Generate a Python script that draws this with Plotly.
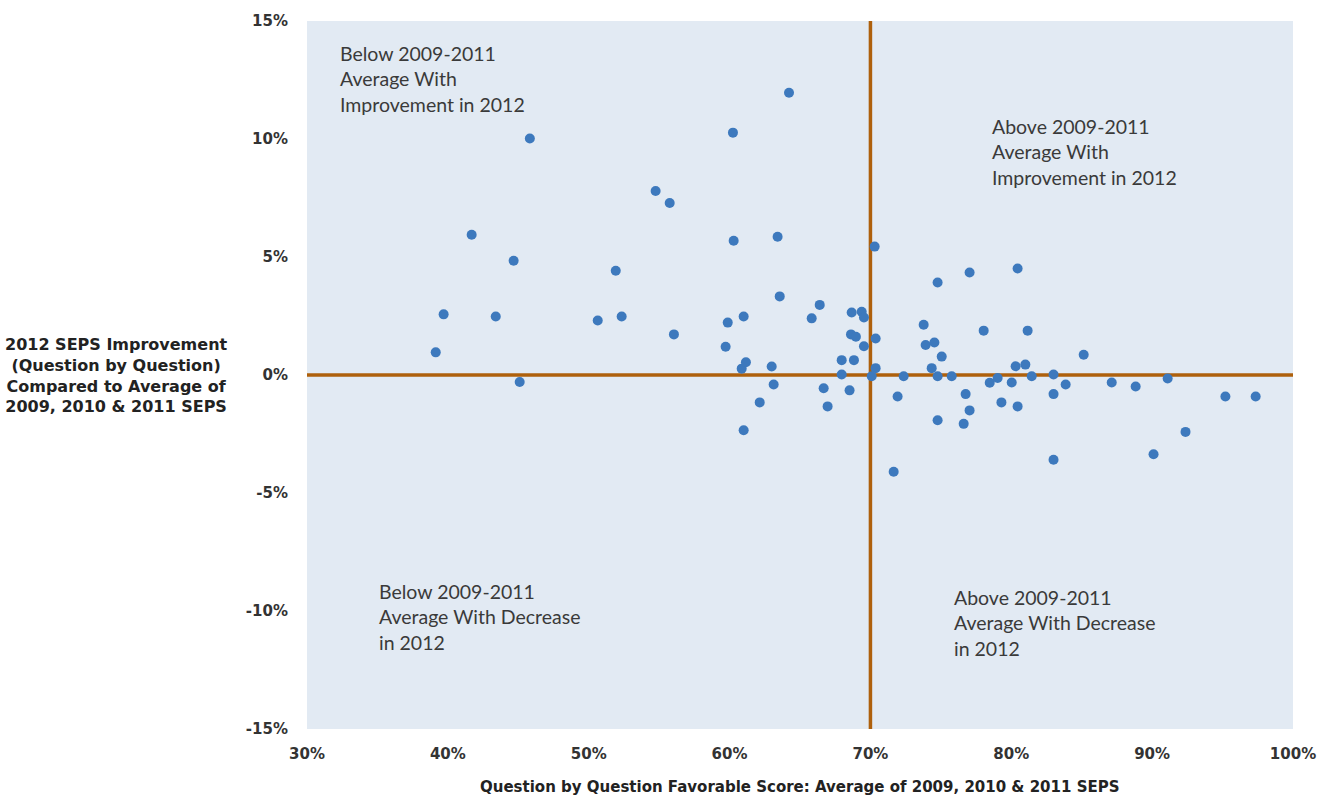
import plotly.graph_objects as go

# Question by question favorable score (avg 2009-2011), percent
favorable_avg = [
    39.14, 39.70, 41.69, 43.40, 44.67, 45.10, 45.82, 50.64, 51.92, 52.34,
    54.75, 55.75, 56.05, 59.72, 59.87, 60.29, 60.24, 60.86, 61.00, 61.16,
    61.00, 62.14, 62.99, 63.13, 63.41, 63.56, 64.22, 65.83, 66.40, 66.68,
    66.96, 67.96, 67.96, 68.52, 68.67, 68.62, 68.97, 68.83, 69.38, 69.54,
    69.54, 70.30, 70.37, 70.37, 70.09, 71.65, 71.93, 72.36, 73.78, 73.92,
    74.54, 74.35, 74.77, 74.77, 75.06, 74.77, 75.77, 76.62, 76.76, 77.04,
    77.04, 78.04, 78.47, 79.03, 79.30, 80.03, 80.31, 80.45, 80.45, 81.00,
    81.16, 81.45, 83.00, 83.00, 83.00, 83.86, 85.14, 87.13, 88.83, 90.10,
    91.10, 92.37, 95.20, 97.35,
]
# 2012 improvement compared to 2009-2011 average, percent points
improvement_2012 = [
    0.96, 2.57, 5.94, 2.48, 4.84, -0.30, 10.02, 2.31, 4.42, 2.48,
    7.80, 7.29, 1.72, 1.20, 2.22, 5.69, 10.27, 0.27, 2.48, 0.54,
    -2.34, -1.16, 0.36, -0.40, 5.86, 3.33, 11.96, 2.40, 2.97, -0.56,
    -1.33, 0.63, 0.02, -0.65, 2.65, 1.72, 1.62, 0.63, 2.68, 2.44,
    1.22, 5.44, 1.55, 0.29, -0.05, -4.10, -0.91, -0.05, 2.13, 1.27,
    1.38, 0.29, 3.92, -0.05, 0.78, -1.92, -0.05, -2.07, -0.81, -1.50,
    4.34, 1.88, -0.33, -0.13, -1.16, -0.32, 0.37, 4.51, -1.33, 0.44,
    1.88, -0.05, 0.02, -0.81, -3.59, -0.40, 0.86, -0.32, -0.49, -3.36,
    -0.15, -2.41, -0.91, -0.91,
]

x_tickvals = [30, 40, 50, 60, 70, 80, 90, 100]
x_ticktext = ["30%", "40%", "50%", "60%", "70%", "80%", "90%", "100%"]
y_tickvals = [-15, -10, -5, 0, 5, 10, 15]
y_ticktext = ["-15%", "-10%", "-5%", "0%", "5%", "10%", "15%"]

x_divider = 70
y_divider = 0

quadrant_labels = [
    "Below 2009-2011<br>Average With<br>Improvement in 2012",
    "Above 2009-2011<br>Average With<br>Improvement in 2012",
    "Below 2009-2011<br>Average With Decrease<br>in 2012",
    "Above 2009-2011<br>Average With Decrease<br>in 2012",
]
quadrant_x = [32.2, 78.5, 35.0, 75.8]
quadrant_y = [14.2, 11.1, -8.62, -8.84]

line_color = "#AE600C"
bold_font = "DejaVu Sans, Liberation Sans, sans-serif"
tick_font = dict(family=bold_font, size=15, color="#333333", weight="bold")

fig = go.Figure()
fig.add_trace(go.Scatter(
    x=favorable_avg, y=improvement_2012, mode="markers",
    marker=dict(size=10, color="#3D79BD", line=dict(width=0)),
    hoverinfo="x+y", showlegend=False,
))

fig.add_shape(type="line", xref="x", yref="paper", x0=x_divider, x1=x_divider, y0=0, y1=1,
              line=dict(color=line_color, width=3.5), layer="below")
fig.add_shape(type="line", xref="paper", yref="y", x0=0, x1=1, y0=y_divider, y1=y_divider,
              line=dict(color=line_color, width=3.5), layer="below")

for txt, qx, qy in zip(quadrant_labels, quadrant_x, quadrant_y):
    fig.add_annotation(x=qx, y=qy, xref="x", yref="y", text=txt, showarrow=False,
                       xanchor="left", yanchor="top", align="left",
                       font=dict(family="Lato, Open Sans, sans-serif", size=19.5, color="#3a3a3a"))

fig.add_annotation(x=-0.193, y=0.5, xref="paper", yref="paper",
                   text="2012 SEPS Improvement<br>(Question by Question)<br>Compared to Average of<br>2009, 2010 & 2011 SEPS",
                   showarrow=False, xanchor="center", yanchor="middle", align="center",
                   font=dict(family=bold_font, size=16, color="#222222", weight="bold"))
fig.add_annotation(x=0.5, y=-0.0816, xref="paper", yref="paper",
                   text="Question by Question Favorable Score: Average of 2009, 2010 & 2011 SEPS",
                   showarrow=False, xanchor="center", yanchor="middle",
                   font=dict(family=bold_font, size=15, color="#222222", weight="bold"))

fig.update_layout(
    width=1330, height=798,
    margin=dict(l=307, r=37, t=18, b=69),
    paper_bgcolor="white", plot_bgcolor="#E2EAF3",
    xaxis=dict(range=[30, 100], tickvals=x_tickvals, ticktext=x_ticktext, showgrid=False,
               zeroline=False, showline=False, tickfont=tick_font, ticks="", ticklabelstandoff=14),
    yaxis=dict(range=[-15, 15], tickvals=y_tickvals, ticktext=y_ticktext, showgrid=False,
               zeroline=False, showline=False, tickfont=tick_font, ticks="", ticklabelstandoff=18),
)

fig.write_html("out.html", config={"displayModeBar": False},
               post_script="document.body.style.margin='0';")
